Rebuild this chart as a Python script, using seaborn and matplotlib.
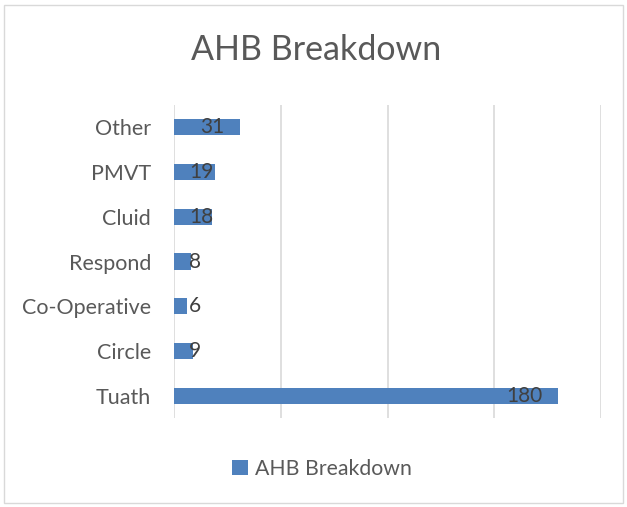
import matplotlib
matplotlib.use("Agg")
import matplotlib.pyplot as plt
import seaborn as sns
import pandas as pd
from matplotlib.patches import Rectangle, Patch

categories = ["Other", "PMVT", "Cluid", "Respond", "Co-Operative", "Circle", "Tuath"]
values = [31, 19, 18, 8, 6, 9, 180]
series_name = "AHB Breakdown"
title = "AHB Breakdown"

df = pd.DataFrame({"cat": categories, "val": values})

sns.set_theme(style="white")
plt.rcParams["font.family"] = ["Lato", "DejaVu Sans"]

W, H = 627, 507
fig = plt.figure(figsize=(W / 100, H / 100), dpi=100)
ax = fig.add_axes([174 / W, 1 - 418 / H, (601 - 174) / W, (418 - 105) / H])

bar_color = "#4F81BD"
sns.barplot(data=df, y="cat", x="val", orient="h", color=bar_color,
            width=0.36, ax=ax, saturation=1, edgecolor="none")

ax.set_xlim(0, 200)
ax.set_ylim(len(categories) - 0.5, -0.5)
ax.set_xticks([0, 50, 100, 150, 200])
ax.set_xticklabels([])
ax.xaxis.grid(True, color="#D9D9D9", linewidth=1.2)
ax.set_axisbelow(True)
for s in ax.spines.values():
    s.set_visible(False)
ax.tick_params(axis="y", length=0, pad=16.5, labelsize=15.5, labelcolor="#595959")
ax.tick_params(axis="x", length=0)
ax.set_xlabel("")
ax.set_ylabel("")

# data labels (inside end, pushed out when bar too short)
px_per_unit = (601 - 174) / 200
for i, v in enumerate(values):
    txt = str(v)
    w_units = len(txt) * 12 / px_per_unit
    left = max(15 / px_per_unit, v - 16 / px_per_unit - w_units)
    ax.text(left, i, txt, ha="left", va="center", fontsize=15, color="#404040")

fig.text(316 / W, 1 - 50 / H, title, ha="center", va="center", fontsize=24.5, color="#595959")

handle = Patch(facecolor=bar_color, edgecolor="none", label=series_name)
leg = fig.legend(handles=[handle], loc="center", bbox_to_anchor=(322 / W, 1 - 469 / H),
                 frameon=False, fontsize=15.3, handlelength=0.75, handleheight=0.75,
                 handletextpad=0.35)
for t in leg.get_texts():
    t.set_color("#595959")

fig.patches.append(Rectangle((4 / W, 4 / H), (W - 8) / W, (H - 9) / H,
                             transform=fig.transFigure, fill=False,
                             edgecolor="#D9D9D9", linewidth=1))

fig.savefig("out.png", dpi=100, facecolor="white")
